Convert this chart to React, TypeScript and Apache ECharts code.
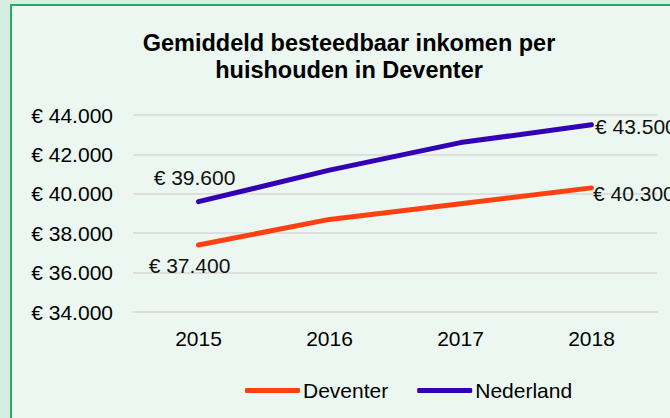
import React, { useEffect, useRef } from "react";
import * as echarts from "echarts";

const years = ["2015", "2016", "2017", "2018"];
const deventer = [37400, 38700, 39500, 40300];
const nederland = [39600, 41200, 42600, 43500];
const titleText = "Gemiddeld besteedbaar inkomen per\nhuishouden in Deventer";

const fmt = (v: number) => "€ " + String(v).replace(/\B(?=(\d{3})+(?!\d))/g, ".");

export default function App() {
  const ref = useRef<HTMLDivElement>(null);
  useEffect(() => {
    if (!ref.current) return;
    const chart = echarts.init(ref.current, undefined, { renderer: "svg" });
    const font = "'Liberation Sans', Arial, sans-serif";
    const labelStyle = { show: true, fontSize: 21, color: "#111", fontFamily: font, formatter: (p: any) => fmt(p.value) };
    const withLabels = (arr: number[], first: any, last: any) =>
      arr.map((v, i) => {
        if (i === 0) return { value: v, label: { ...labelStyle, ...first } };
        if (i === arr.length - 1) return { value: v, label: { ...labelStyle, ...last } };
        return v;
      });
    chart.setOption({
      animation: false,
      backgroundColor: "#d4eee1",
      graphic: [
        {
          type: "rect",
          z: -10,
          silent: true,
          shape: { x: 11, y: 5, width: 700, height: 440 },
          style: { fill: "#ebf7f0", stroke: "#1fae62", lineWidth: 2 },
        },
        {
          type: "text",
          x: 349,
          y: 29,
          style: {
            text: titleText,
            font: `bold 23.5px ${font}`,
            fill: "#000",
            textAlign: "center",
            lineHeight: 27,
          },
        },
      ],
      grid: { left: 133, right: 13, top: 115, bottom: 106 },
      legend: {
        left: 240,
        top: 375,
        icon: "roundRect",
        itemWidth: 55,
        itemHeight: 5,
        itemGap: 29,
        textStyle: { fontSize: 21, color: "#000", fontFamily: font, padding: [0, 0, 0, -2] },
        data: ["Deventer", "Nederland"],
      },
      xAxis: {
        type: "category",
        data: years,
        boundaryGap: true,
        axisLine: { show: true, lineStyle: { color: "#d9d9d9", width: 1.5 } },
        axisTick: { show: false },
        axisLabel: { fontSize: 21, color: "#000", fontFamily: font, margin: 16 },
      },
      yAxis: {
        type: "value",
        min: 34000,
        max: 44000,
        interval: 2000,
        axisLine: { show: false },
        axisTick: { show: false },
        splitLine: { lineStyle: { color: "#d9d9d9", width: 1.5 } },
        axisLabel: { fontSize: 21, color: "#000", fontFamily: font, margin: 20, formatter: (v: number) => fmt(v) },
      },
      series: [
        {
          name: "Deventer",
          type: "line",
          symbol: "circle",
          symbolSize: 1,
          color: "#ff4010",
          lineStyle: { width: 5, color: "#ff4010", cap: "round" },
          data: withLabels(
            deventer,
            { position: "bottom", offset: [-9, 4] },
            { position: "right", offset: [-4, 6] }
          ),
        },
        {
          name: "Nederland",
          type: "line",
          symbol: "circle",
          symbolSize: 1,
          color: "#3300b5",
          lineStyle: { width: 5, color: "#3300b5", cap: "round" },
          data: withLabels(
            nederland,
            { position: "top", offset: [-4, -8] },
            { position: "right", offset: [-2, 2] }
          ),
        },
      ],
    });
    return () => chart.dispose();
  }, []);
  return (
    <div
      ref={ref}
      style={{ position: "absolute", left: 0, top: 0, width: 670, height: 418 }}
    />
  );
}
